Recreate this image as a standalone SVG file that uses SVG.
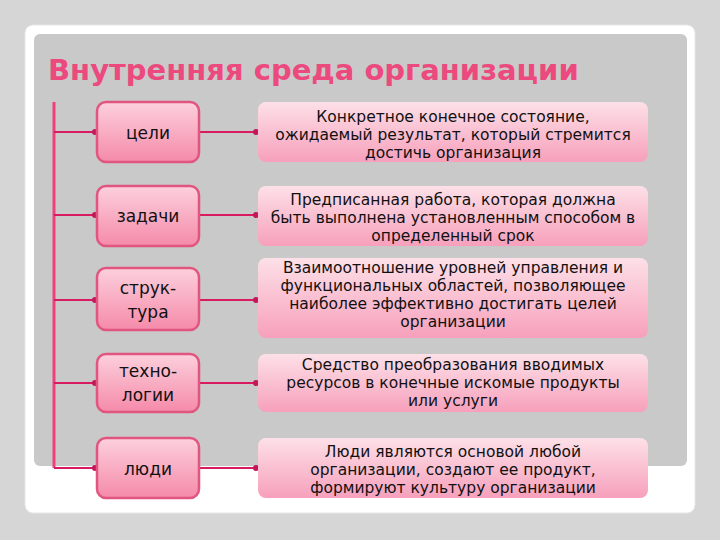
<svg xmlns="http://www.w3.org/2000/svg" width="720" height="540" viewBox="0 0 720 540">
<defs>
<linearGradient id="gl" x1="0" y1="0" x2="0" y2="1"><stop offset="0" stop-color="#fcd0dc"/><stop offset="1" stop-color="#f58aaa"/></linearGradient>
<linearGradient id="gr" x1="0" y1="0" x2="0" y2="1"><stop offset="0" stop-color="#fde0e8"/><stop offset="1" stop-color="#f7a0bc"/></linearGradient>
<marker id="m" viewBox="0 0 4 4" refX="2" refY="2" markerWidth="3" markerHeight="3"><circle cx="2" cy="2" r="2" fill="#c2185b"/></marker>
</defs>
<style>
.l{fill:url(#gl);stroke:#e0567f;stroke-width:2.5}
.r{fill:url(#gr)}
.t{font-family:"DejaVu Sans",sans-serif;font-size:15.5px;fill:#111;text-anchor:middle}
.k{font-family:"DejaVu Sans",sans-serif;font-size:17px;fill:#111;text-anchor:middle}
.c{stroke:#d81b60;stroke-width:2;fill:none;marker-end:url(#m)}
.b{stroke:#f0407a;stroke-width:3;fill:none}
</style>
<rect width="720" height="540" fill="#d6d6d6"/>
<rect x="25" y="25" width="670" height="488" rx="8" fill="#fff" stroke="#e6e6e6"/>
<rect x="34" y="34" width="653" height="432" rx="6" fill="#c9c9c9"/>
<text x="48" y="80" font-family="DejaVu Sans,sans-serif" font-weight="bold" font-size="29" fill="#ec4a7e">Внутренняя среда организации</text>
<g id="connectors">
<path class="b" d="M54 102V468"/>
<path class="c" d="M54 132H95"/><path class="c" d="M54 215H95"/><path class="c" d="M54 300H95"/><path class="c" d="M54 383H95"/><path class="c" d="M54 468H95"/>
<path class="c" d="M199 132H256"/><path class="c" d="M199 215H256"/><path class="c" d="M199 300H256"/><path class="c" d="M199 383H256"/><path class="c" d="M199 468H256"/>
</g>
<g id="n1"><rect class="l" x="97" y="102" width="102" height="60" rx="9"/><text class="k" x="148" y="139">цели</text></g>
<g id="n2"><rect class="l" x="97" y="186" width="102" height="60" rx="9"/><text class="k" x="148" y="222">задачи</text></g>
<g id="n3"><rect class="l" x="97" y="268" width="102" height="62" rx="9"/><text class="k" x="148" y="294">струк-</text><text class="k" x="148" y="318">тура</text></g>
<g id="n4"><rect class="l" x="97" y="354" width="102" height="58" rx="9"/><text class="k" x="148" y="377">техно-</text><text class="k" x="148" y="401">логии</text></g>
<g id="n5"><rect class="l" x="97" y="438" width="102" height="60" rx="9"/><text class="k" x="148" y="475">люди</text></g>
<g id="d1"><rect class="r" x="258" y="102" width="390" height="60" rx="8"/><text class="t" x="453" y="122">Конкретное конечное состояние,</text><text class="t" x="453" y="140">ожидаемый результат, который стремится</text><text class="t" x="453" y="158">достичь организация</text></g>
<g id="d2"><rect class="r" x="258" y="186" width="390" height="60" rx="8"/><text class="t" x="453" y="205">Предписанная работа, которая должна</text><text class="t" x="453" y="223">быть выполнена установленным способом в</text><text class="t" x="453" y="241">определенный срок</text></g>
<g id="d3"><rect class="r" x="258" y="258" width="390" height="80" rx="8"/><text class="t" x="453" y="273">Взаимоотношение уровней управления и</text><text class="t" x="453" y="291">функциональных областей, позволяющее</text><text class="t" x="453" y="309">наиболее эффективно достигать целей</text><text class="t" x="453" y="327">организации</text></g>
<g id="d4"><rect class="r" x="258" y="354" width="390" height="58" rx="8"/><text class="t" x="453" y="370">Средство преобразования вводимых</text><text class="t" x="453" y="388">ресурсов в конечные искомые продукты</text><text class="t" x="453" y="406">или услуги</text></g>
<g id="d5"><rect class="r" x="258" y="438" width="390" height="60" rx="8"/><text class="t" x="453" y="457">Люди являются основой любой</text><text class="t" x="453" y="475">организации, создают ее продукт,</text><text class="t" x="453" y="493">формируют культуру организации</text></g>
</svg>
